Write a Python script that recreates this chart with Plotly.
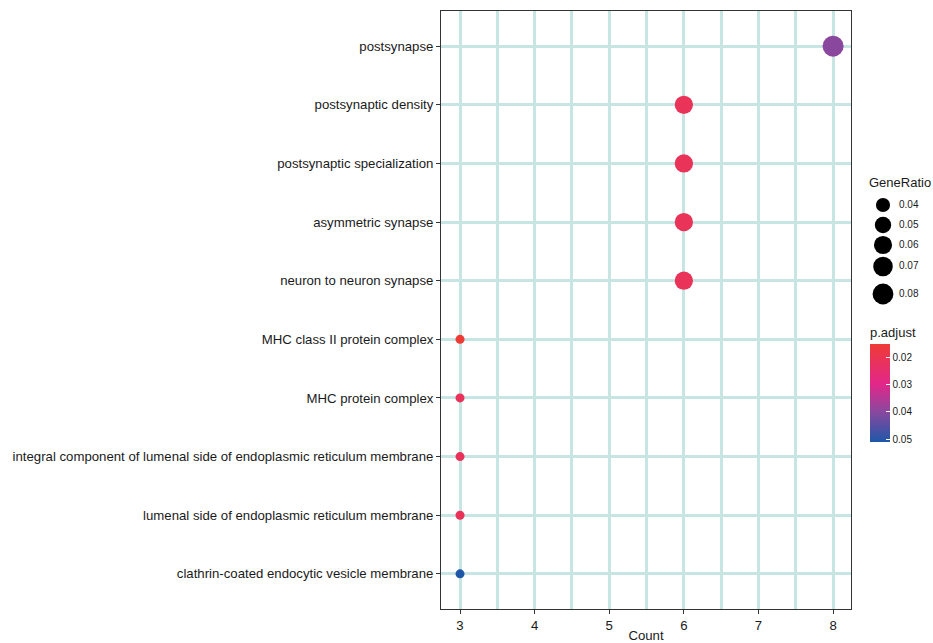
import plotly.graph_objects as go
import math

# ---------------- data ----------------
terms = [
    "postsynapse",
    "postsynaptic density",
    "postsynaptic specialization",
    "asymmetric synapse",
    "neuron to neuron synapse",
    "MHC class II protein complex",
    "MHC protein complex",
    "integral component of lumenal side of endoplasmic reticulum membrane",
    "lumenal side of endoplasmic reticulum membrane",
    "clathrin-coated endocytic vesicle membrane",
]
counts = [8, 6, 6, 6, 6, 3, 3, 3, 3, 3]
gene_ratio = [0.0816, 0.0612, 0.0612, 0.0612, 0.0612, 0.0306, 0.0306, 0.0306, 0.0306, 0.0306]
p_adjust = [0.0400, 0.0212, 0.0212, 0.0212, 0.0212, 0.0151, 0.0215, 0.0215, 0.0215, 0.0511]

size_legend_values = [0.04, 0.05, 0.06, 0.07, 0.08]
size_legend_labels = ["0.04", "0.05", "0.06", "0.07", "0.08"]
color_ticks = [0.02, 0.03, 0.04, 0.05]
color_tick_labels = ["0.02", "0.03", "0.04", "0.05"]
x_ticks = [3, 4, 5, 6, 7, 8]

# ---------------- scales ----------------
W, H = 933, 643
FONT = "Liberation Sans, Arial, sans-serif"
D_MIN, D_MAX = 9.0, 21.0
g_lo, g_hi = min(gene_ratio), max(gene_ratio)


def size_scale(g):
    t = (g - g_lo) / (g_hi - g_lo)
    t = max(t, 0.0)
    return D_MIN + math.sqrt(t) * (D_MAX - D_MIN)


p_lo, p_hi = min(p_adjust), max(p_adjust)
# colour is mapped on -p so that small p (red) sits at the top of the colourbar
colorscale = [
    [0.0, "#1F57A8"],
    [0.31, "#8A489E"],
    [0.59, "#E2278A"],
    [1.0, "#EF3B36"],
]


def px_x(px):
    return px / W


def px_y(py):
    return 1 - py / H


fig = go.Figure()

fig.add_trace(go.Scatter(
    x=counts,
    y=terms,
    mode="markers",
    marker=dict(
        size=[size_scale(g) for g in gene_ratio],
        sizemode="diameter",
        color=[-p for p in p_adjust],
        cmin=-p_hi, cmax=-p_lo,
        colorscale=colorscale,
        line=dict(width=0),
        opacity=1,
        colorbar=dict(
            title=dict(text="p.adjust", side="top", font=dict(family=FONT, size=13, color="#1a1a1a")),
            tickvals=[-v for v in color_ticks],
            ticktext=color_tick_labels,
            ticks="inside",
            ticklen=4,
            tickcolor="white",
            tickwidth=1,
            tickfont=dict(family=FONT, size=10, color="#1a1a1a"),
            thickness=20, thicknessmode="pixels",
            len=118, lenmode="pixels",
            x=px_x(870), xanchor="left",
            y=px_y(442), yanchor="bottom",
            xpad=0, ypad=0,
            outlinewidth=0,
        ),
    ),
    showlegend=False,
    hoverinfo="x+y",
))

# ---------------- GeneRatio size legend (separate small axes) ----------------
leg_y_px = [205, 225, 245, 266.5, 294]
leg_top, leg_bot = 175, 310
fig.add_trace(go.Scatter(
    x=[23] * len(size_legend_values),
    y=[p - leg_top for p in leg_y_px],
    mode="markers",
    marker=dict(size=[size_scale(v) for v in size_legend_values], color="#000000",
                opacity=1, line=dict(width=0)),
    xaxis="x2", yaxis="y2", showlegend=False, hoverinfo="skip",
))
fig.add_trace(go.Scatter(
    x=[39] * len(size_legend_labels),
    y=[p - leg_top for p in leg_y_px],
    mode="text",
    text=size_legend_labels,
    textposition="middle right",
    textfont=dict(family=FONT, size=10, color="#1a1a1a"),
    xaxis="x2", yaxis="y2", showlegend=False, hoverinfo="skip",
))

fig.add_annotation(
    text="GeneRatio", x=px_x(867), y=px_y(183), xref="paper", yref="paper",
    xanchor="left", yanchor="middle", showarrow=False,
    font=dict(family=FONT, size=13, color="#1a1a1a"),
)

grid_col = "#C6E5E3"
fig.update_layout(
    width=W, height=H,
    margin=dict(l=0, r=0, t=0, b=0),
    paper_bgcolor="white",
    plot_bgcolor="white",
    font=dict(family=FONT, size=13, color="#1a1a1a"),
    xaxis=dict(
        domain=[px_x(441), px_x(851)],
        range=[2.745, 8.24],
        tickvals=x_ticks,
        ticks="outside", ticklen=4, tickcolor="#333333",
        tickfont=dict(family=FONT, size=13.2, color="#1a1a1a"),
        showgrid=True, gridcolor=grid_col, gridwidth=3,
        minor=dict(dtick=0.5, tick0=3, showgrid=True, gridcolor=grid_col, gridwidth=3, ticks=""),
        showline=True, linecolor="#333333", linewidth=1, mirror=True,
        zeroline=False,
        title=dict(text="Count", font=dict(family=FONT, size=13.2, color="#1a1a1a"), standoff=3),
        automargin=False,
    ),
    yaxis=dict(
        domain=[px_y(609), px_y(11)],
        type="category",
        categoryorder="array", categoryarray=terms,
        range=[len(terms) - 1 + 0.6, -0.6],
        ticks="outside", ticklen=4, tickcolor="#333333",
        tickfont=dict(family=FONT, size=13.2, color="#1a1a1a"),
        showgrid=True, gridcolor=grid_col, gridwidth=3,
        showline=True, linecolor="#333333", linewidth=1, mirror=True,
        zeroline=False,
        automargin=False,
    ),
    xaxis2=dict(
        domain=[px_x(860), 1.0], range=[0, 73],
        visible=False, fixedrange=True,
    ),
    yaxis2=dict(
        domain=[px_y(leg_bot), px_y(leg_top)], range=[leg_bot - leg_top, 0],
        visible=False, fixedrange=True,
    ),
)

fig.write_html("out.html", config={"displayModeBar": False},
               post_script="document.body.style.margin='0';document.body.style.overflow='hidden';")
